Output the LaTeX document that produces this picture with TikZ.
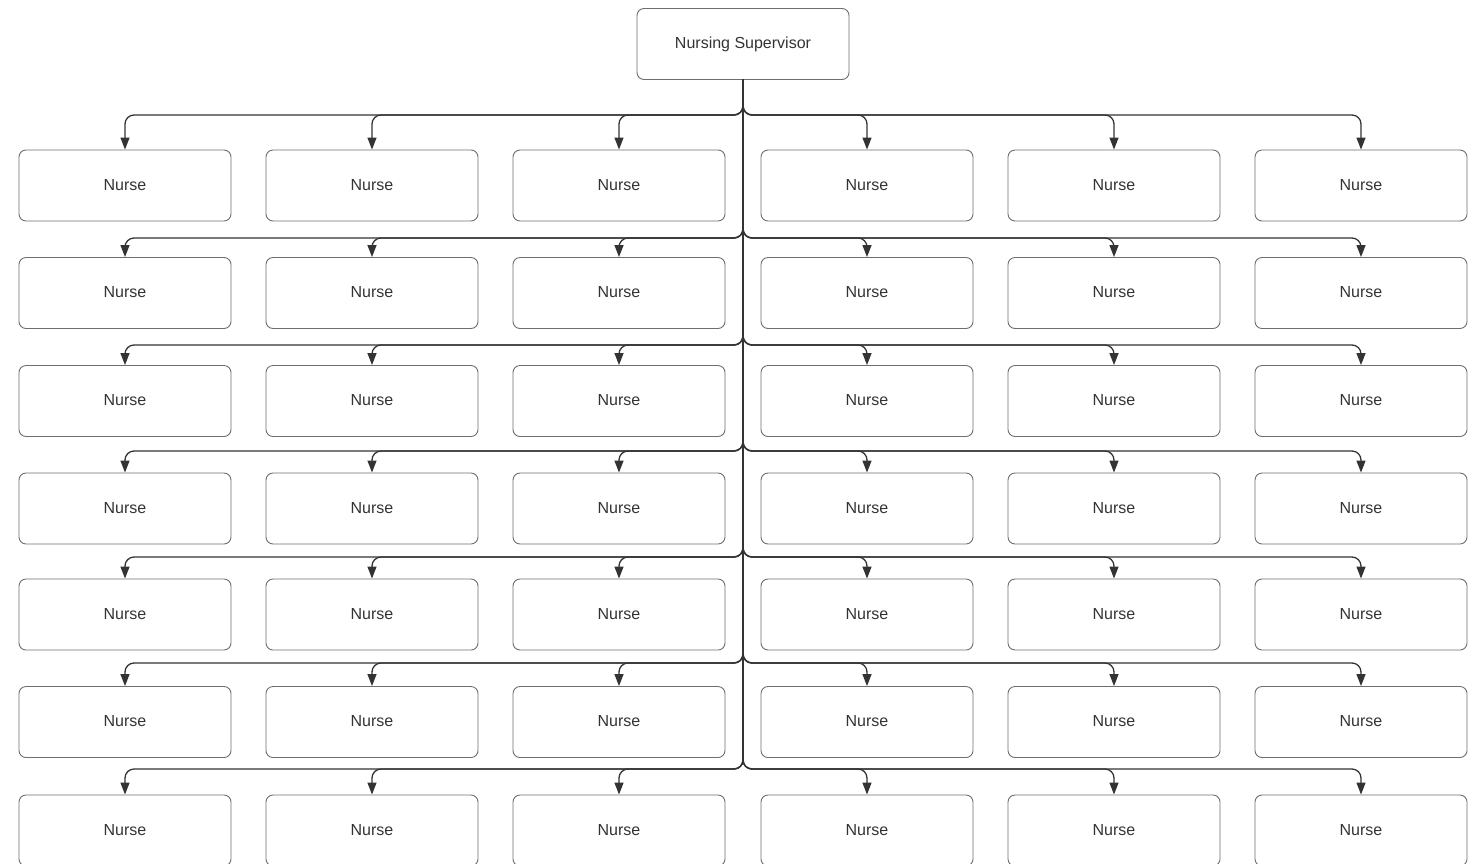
\documentclass[tikz,border=0pt]{standalone}
\usepackage{fontspec}
\setmainfont{Liberation Sans}
\usetikzlibrary{arrows.meta}
\definecolor{boxline}{HTML}{6E6E6E}
\definecolor{conline}{HTML}{333333}
\definecolor{txt}{HTML}{333333}
\begin{document}
\begin{tikzpicture}[x=1pt,y=-1pt,
  card/.style={draw=boxline,line width=0.9pt,rounded corners=7pt,minimum width=212pt,minimum height=71pt,inner sep=0pt,text=txt,font=\fontsize{16}{19}\selectfont},
  link/.style={draw=conline,line width=1.3pt,rounded corners=9pt,-{Triangle[width=9pt,length=12pt]}}]
\useasboundingbox (0,0) rectangle (1476,863);
\node[card] (sup) at (743,44) {\raisebox{1.5pt}{Nursing Supervisor}};
\foreach \r/\cy/\by in {1/185.5/115,2/293/238,3/401/345,4/508.5/451,5/614.5/557,6/722/663,7/830.5/769}{
  \foreach \c/\cx in {1/125,2/372,3/619,4/867,5/1114,6/1361}{
    \node[card] (n\r\c) at (\cx,\cy) {\raisebox{1.5pt}{Nurse}};
    \draw[link] (sup.south) -- (743,\by) -- (\cx,\by) -- (n\r\c.north);
  }
}
\end{tikzpicture}
\end{document}
